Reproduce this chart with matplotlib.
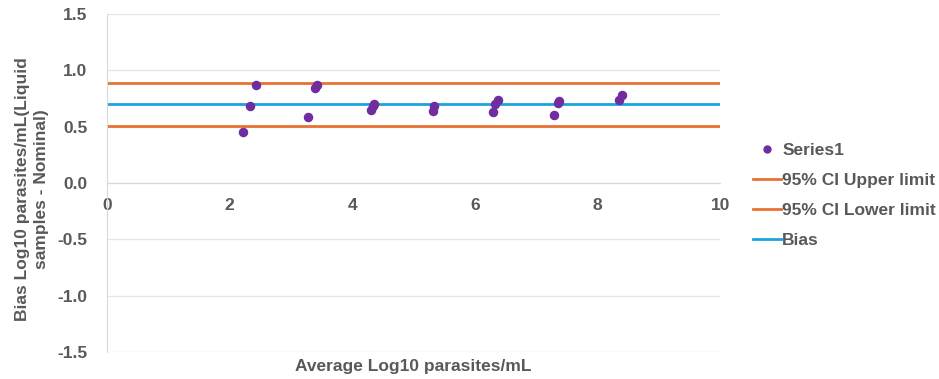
import matplotlib.pyplot as plt
from matplotlib.lines import Line2D

# average log10 parasites/mL vs bias
avg = [2.21, 2.33, 2.43, 3.28, 3.39, 3.43, 4.31, 4.33, 4.35,
       5.31, 5.33, 6.30, 6.33, 6.37, 7.29, 7.35, 7.37, 8.35, 8.40]
bias = [0.45, 0.68, 0.87, 0.59, 0.84, 0.87, 0.65, 0.68, 0.70,
        0.64, 0.68, 0.63, 0.70, 0.74, 0.60, 0.71, 0.73, 0.74, 0.78]

upper = 0.885
lower = 0.508
mean_bias = 0.70

grey = '#595959'
orange = '#E97132'
blue = '#1CA3DE'
purple = '#6F2DA0'

plt.rcParams['font.family'] = ['Liberation Sans', 'DejaVu Sans']
fs = 12.5

fig = plt.figure(figsize=(9.39, 3.79), dpi=100)
ax = fig.add_axes([0.114, 0.071, 0.653, 0.892])

ax.set_xlim(0, 10)
ax.set_ylim(-1.5, 1.5)
ax.set_yticks([-1.5, -1.0, -0.5, 0.0, 0.5, 1.0, 1.5])
ax.set_yticklabels([f'{v:.1f}' for v in ax.get_yticks()])
ax.set_xticks([0, 2, 4, 6, 8, 10])

ax.grid(axis='y', color='#E6E6E6', lw=1)
ax.set_axisbelow(True)
for s in ['top', 'right']:
    ax.spines[s].set_visible(False)
ax.spines['left'].set_color('#D9D9D9')
ax.spines['bottom'].set_position(('data', 0))
ax.spines['bottom'].set_color('#D9D9D9')
ax.tick_params(length=0, labelsize=fs, labelcolor=grey)
ax.tick_params(axis='y', pad=14)
ax.tick_params(axis='x', pad=11)
for t in ax.get_xticklabels() + ax.get_yticklabels():
    t.set_fontweight('bold')

ax.axhline(upper, color=orange, lw=2)
ax.axhline(lower, color=orange, lw=2)
ax.axhline(mean_bias, color=blue, lw=2)
ax.scatter(avg, bias, s=34, color=purple, zorder=3)

fig.text(0.44, 0.032, 'Average Log10 parasites/mL', ha='center', va='center',
         fontsize=fs, fontweight='bold', color=grey)
fig.text(0.034, 0.5, 'Bias Log10 parasites/mL(Liquid\nsamples - Nominal)',
         rotation=90, ha='center', va='center', fontsize=fs,
         fontweight='bold', color=grey, linespacing=1.35)

handles = [
    Line2D([], [], marker='o', ls='none', color=purple, markersize=5),
    Line2D([], [], color=orange, lw=2),
    Line2D([], [], color=orange, lw=2),
    Line2D([], [], color=blue, lw=2),
]
labels = ['Series1', '95% CI Upper limit', '95% CI Lower limit', 'Bias']
leg = fig.legend(handles, labels, loc='center left', bbox_to_anchor=(0.785, 0.484),
                 frameon=False, handlelength=1.6, handletextpad=0.1,
                 labelspacing=0.86, prop={'size': fs, 'weight': 'bold'})
for t in leg.get_texts():
    t.set_color(grey)

fig.savefig('out.png')
